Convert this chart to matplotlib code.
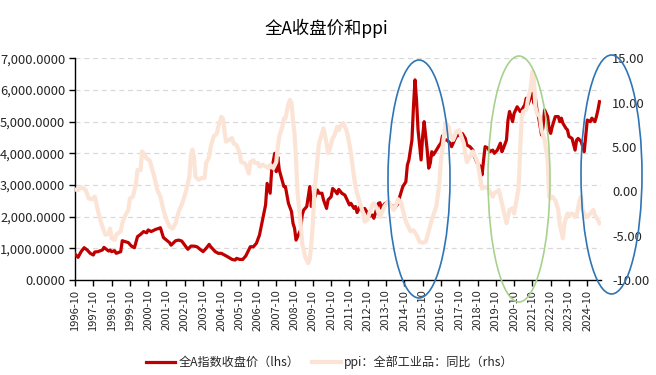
import matplotlib
matplotlib.use('Agg')
import matplotlib.pyplot as plt
from matplotlib.patches import Ellipse
from matplotlib.ticker import FuncFormatter
from matplotlib.lines import Line2D

plt.rcParams['font.family'] = ['Noto Sans CJK SC', 'DejaVu Sans']

# ---------------- data ----------------
idx_dates = [
    "1996-10", "1996-12", "1997-02", "1997-04", "1997-06", "1997-08", "1997-10", "1997-11",
    "1998-01", "1998-04", "1998-05", "1998-08", "1998-09", "1998-10", "1998-12", "1999-01",
    "1999-04", "1999-05", "1999-07", "1999-09", "1999-11", "2000-01", "2000-03", "2000-05",
    "2000-07", "2000-09", "2000-10", "2000-12", "2001-03", "2001-05", "2001-06", "2001-08",
    "2001-10", "2001-12", "2002-01", "2002-04", "2002-06", "2002-08", "2002-10", "2002-12",
    "2003-02", "2003-04", "2003-06", "2003-08", "2003-10", "2003-12", "2004-02", "2004-03",
    "2004-06", "2004-08", "2004-10", "2004-12", "2005-02", "2005-05", "2005-07", "2005-08",
    "2005-10", "2005-12", "2006-02", "2006-05", "2006-07", "2006-09", "2006-11", "2007-01",
    "2007-03", "2007-04", "2007-06", "2007-07", "2007-09", "2007-10", "2007-11", "2007-12",
    "2008-03", "2008-04", "2008-06", "2008-08", "2008-09", "2008-10", "2008-11", "2008-12",
    "2009-02", "2009-03", "2009-04", "2009-06", "2009-07", "2009-08", "2009-09", "2009-10",
    "2009-11", "2010-01", "2010-02", "2010-04", "2010-05", "2010-07", "2010-08", "2010-10",
    "2010-11", "2011-01", "2011-02", "2011-03", "2011-05", "2011-07", "2011-08", "2011-10",
    "2011-11", "2012-01", "2012-02", "2012-03", "2012-05", "2012-06", "2012-08", "2012-10",
    "2012-11", "2013-01", "2013-02", "2013-05", "2013-06", "2013-07", "2013-09", "2013-11",
    "2013-12", "2014-01", "2014-03", "2014-04", "2014-06", "2014-07", "2014-09", "2014-11",
    "2014-12", "2015-01", "2015-03", "2015-04", "2015-05", "2015-06", "2015-07", "2015-09",
    "2015-10", "2015-11", "2016-01", "2016-02", "2016-03", "2016-04", "2016-05", "2016-07",
    "2016-09", "2016-10", "2016-11", "2016-12", "2017-02", "2017-04", "2017-05", "2017-07",
    "2017-08", "2017-10", "2017-12", "2018-02", "2018-03", "2018-05", "2018-07", "2018-08",
    "2018-10", "2018-12", "2019-01", "2019-02", "2019-03", "2019-05", "2019-06", "2019-08",
    "2019-09", "2019-11", "2019-12", "2020-01", "2020-02", "2020-03", "2020-05", "2020-06",
    "2020-07", "2020-09", "2020-10", "2020-12", "2021-02", "2021-03", "2021-05", "2021-06",
    "2021-07", "2021-09", "2021-10", "2021-11", "2021-12", "2022-01", "2022-02", "2022-04",
    "2022-05", "2022-06", "2022-08", "2022-09", "2022-10", "2022-11", "2023-01", "2023-03",
    "2023-04", "2023-05", "2023-06", "2023-08", "2023-09", "2023-10", "2023-12", "2024-02",
    "2024-03", "2024-04", "2024-06", "2024-08", "2024-10", "2024-12", "2025-01", "2025-03",
    "2025-04", "2025-05", "2025-06",
]
idx_values = [
    820, 716, 895, 1020, 947, 842, 790, 884,
    895, 947, 1030, 915, 947, 895, 926, 842,
    895, 1240, 1210, 1180, 1070, 1020, 1370, 1440,
    1530, 1490, 1580, 1530, 1600, 1630, 1650, 1340,
    1260, 1180, 1100, 1240, 1260, 1230, 1100, 970,
    1070, 1070, 1050, 970, 895, 1000, 1125, 1050,
    895, 842, 842, 790, 737, 650, 630, 684,
    650, 650, 758, 1050, 1050, 1160, 1420, 1890,
    2370, 3050, 2740, 3470, 4000, 3420, 3890, 3470,
    2950, 2950, 2420, 2160, 1790, 1630, 1260, 1370,
    1580, 2050, 2210, 2320, 2630, 2950, 2320, 2630,
    2580, 2840, 2740, 2740, 2530, 2260, 2530, 2630,
    2890, 2790, 2720, 2860, 2740, 2680, 2580, 2370,
    2420, 2260, 2320, 2130, 2320, 2210, 2260, 2100,
    2000, 2050, 1950, 2420, 2440, 2260, 2400, 2470,
    2440, 2370, 2320, 2300, 2420, 2630, 2950, 3100,
    3630, 3790, 4420, 5470, 6320, 5680, 4740, 3790,
    4530, 5000, 4100, 3530, 3680, 4050, 3950, 4100,
    4260, 4320, 4550, 4420, 4420, 4320, 4210, 4420,
    4530, 4580, 4630, 4470, 4260, 4210, 4100, 3890,
    3680, 3580, 3320, 3790, 4210, 4160, 4050, 4100,
    4000, 4100, 4210, 4320, 4050, 4160, 4420, 5050,
    5320, 5000, 5260, 5470, 5320, 5370, 5530, 5740,
    5530, 5790, 5890, 5580, 5740, 5370, 5160, 4580,
    4840, 5370, 5160, 4740, 4630, 4840, 5160, 5160,
    5000, 5110, 4950, 4790, 4740, 4530, 4470, 4100,
    4420, 4470, 4370, 4050, 5050, 5000, 5110, 5000,
    5160, 5370, 5630,
]

ppi_dates = [
    "1996-10", "1996-12", "1997-02", "1997-05", "1997-07", "1997-09", "1997-11", "1997-12",
    "1998-02", "1998-04", "1998-06", "1998-08", "1998-09", "1998-10", "1998-12", "1999-01",
    "1999-04", "1999-05", "1999-07", "1999-09", "1999-10", "1999-12", "2000-02", "2000-03",
    "2000-05", "2000-06", "2000-07", "2000-09", "2000-11", "2001-02", "2001-04", "2001-06",
    "2001-08", "2001-10", "2001-12", "2002-02", "2002-04", "2002-06", "2002-08", "2002-09",
    "2002-11", "2003-01", "2003-02", "2003-03", "2003-04", "2003-05", "2003-07", "2003-09",
    "2003-11", "2003-12", "2004-01", "2004-02", "2004-03", "2004-05", "2004-07", "2004-08",
    "2004-10", "2004-11", "2004-12", "2005-01", "2005-03", "2005-05", "2005-06", "2005-08",
    "2005-10", "2005-11", "2006-01", "2006-02", "2006-04", "2006-05", "2006-07", "2006-08",
    "2006-10", "2006-11", "2007-01", "2007-03", "2007-05", "2007-06", "2007-08", "2007-10",
    "2007-11", "2007-12", "2008-02", "2008-03", "2008-04", "2008-06", "2008-07", "2008-08",
    "2008-09", "2008-10", "2008-11", "2008-12", "2009-02", "2009-03", "2009-05", "2009-07",
    "2009-08", "2009-09", "2009-10", "2009-11", "2010-01", "2010-02", "2010-04", "2010-05",
    "2010-07", "2010-08", "2010-09", "2010-11", "2010-12", "2011-02", "2011-03", "2011-04",
    "2011-06", "2011-08", "2011-09", "2011-11", "2012-01", "2012-02", "2012-03", "2012-05",
    "2012-07", "2012-08", "2012-10", "2012-11", "2013-01", "2013-02", "2013-04", "2013-06",
    "2013-07", "2013-09", "2013-11", "2014-01", "2014-03", "2014-05", "2014-06", "2014-08",
    "2014-09", "2014-11", "2015-02", "2015-04", "2015-06", "2015-08", "2015-10", "2015-12",
    "2016-02", "2016-04", "2016-07", "2016-09", "2016-10", "2016-12", "2017-01", "2017-03",
    "2017-04", "2017-06", "2017-07", "2017-08", "2017-10", "2017-11", "2018-01", "2018-02",
    "2018-03", "2018-05", "2018-07", "2018-08", "2018-10", "2018-12", "2019-01", "2019-03",
    "2019-05", "2019-06", "2019-08", "2019-09", "2019-11", "2019-12", "2020-01", "2020-02",
    "2020-04", "2020-05", "2020-07", "2020-09", "2020-10", "2020-12", "2021-01", "2021-02",
    "2021-03", "2021-04", "2021-06", "2021-07", "2021-09", "2021-10", "2021-11", "2021-12",
    "2022-01", "2022-03", "2022-04", "2022-06", "2022-08", "2022-09", "2022-10", "2022-11",
    "2023-01", "2023-03", "2023-04", "2023-06", "2023-07", "2023-09", "2023-10", "2023-12",
    "2024-02", "2024-03", "2024-05", "2024-06", "2024-07", "2024-09", "2024-10", "2024-12",
    "2025-02", "2025-03", "2025-05", "2025-06",
]
ppi_values = [
    0.2, 0.15, 0.5, 0.15, -0.8, -0.9, -0.6, -1.35,
    -2.9, -4.0, -4.9, -4.8, -4.2, -5.3, -5.5, -4.9,
    -4.5, -3.6, -2.7, -2.1, -0.8, -0.6, 0.9, 2.4,
    2.4, 4.5, 4.3, 3.7, 3.5, 1.65, 0.15, -0.6,
    -2.1, -3.2, -4.0, -4.2, -3.6, -2.3, -1.5, -1.0,
    0.15, 1.65, 3.9, 4.7, 3.9, 1.65, 1.3, 1.5,
    1.5, 3.2, 3.5, 3.9, 5.0, 6.2, 6.5, 7.3,
    8.4, 8.2, 6.9, 5.6, 5.8, 6.0, 5.4, 5.2,
    4.3, 3.3, 3.2, 3.0, 2.0, 3.3, 3.5, 3.2,
    3.2, 2.8, 3.0, 2.8, 2.6, 3.0, 2.6, 3.3,
    5.0, 6.2, 7.3, 8.2, 8.2, 9.9, 10.3, 10.0,
    8.0, 6.5, 3.5, -0.2, -3.6, -5.9, -7.4, -8.1,
    -7.6, -5.9, -3.6, -0.2, 3.5, 5.4, 6.5, 7.1,
    5.4, 4.3, 4.7, 6.0, 6.2, 7.3, 6.9, 7.3,
    7.7, 6.9, 6.2, 4.3, 1.65, 0.5, -0.2, -1.35,
    -2.5, -3.4, -3.2, -2.5, -1.5, -1.35, -1.9, -2.9,
    -2.5, -1.7, -1.2, -1.5, -2.1, -1.35, -0.9, -1.35,
    -2.1, -3.4, -4.5, -4.4, -4.9, -5.7, -5.8, -5.7,
    -4.5, -3.2, -1.7, 0.9, 3.5, 6.2, 7.7, 7.3,
    6.5, 5.8, 6.2, 6.7, 6.9, 6.4, 5.4, 4.3,
    3.3, 3.9, 4.5, 4.1, 3.3, 1.3, 0.3, 0.5,
    0.3, 0.0, -0.6, -0.2, 0.0, 0.15, -0.6, -1.35,
    -2.9, -3.6, -2.1, -1.9, -2.5, -0.6, 0.5, 4.7,
    8.4, 9.0, 9.2, 10.3, 11.8, 13.5, 12.6, 9.5,
    8.8, 8.4, 6.9, 5.8, 3.5, -0.6, -0.8, -0.6,
    -1.0, -2.1, -3.8, -5.3, -3.6, -2.5, -2.7, -2.5,
    -2.9, -2.7, -1.0, -0.6, -2.1, -2.9, -2.9, -2.5,
    -2.1, -2.7, -3.2, -3.6,
]

tick_labels = [f"{y}-10" for y in range(1996, 2025)]
left_ticks = [0, 1000, 2000, 3000, 4000, 5000, 6000, 7000]
right_ticks = [-10, -5, 0, 5, 10, 15]

title = "全A收盘价和ppi"
idx_name = "全A指数收盘价（lhs）"
ppi_name = "ppi：全部工业品：同比（rhs）"


def month_index(s):
    y, m = s.split("-")
    return (int(y) - 1996) * 12 + int(m) - 10


idx_x = [month_index(d) for d in idx_dates]
ppi_x = [month_index(d) for d in ppi_dates]
tick_x = [month_index(t) for t in tick_labels]

# ---------------- figure ----------------
W, H = 656, 375
fig = plt.figure(figsize=(W / 100, H / 100), dpi=100)
ax = fig.add_axes([75 / W, 1 - 280 / H, (601 - 75) / W, (280 - 58.3) / H])
ax2 = ax.twinx()

red = "#c00000"
peach = "#fbe4d5"
txt = "#262626"

ax.plot(idx_x, idx_values, color=red, lw=2.3, solid_joinstyle="round", zorder=3)
ax2.plot(ppi_x, ppi_values, color=peach, lw=3.0, solid_joinstyle="round")

ax.set_xlim(0, 345)
ax.set_ylim(0, 7000)
ax2.set_ylim(-10, 15)

ax.set_yticks(left_ticks)
ax.yaxis.set_major_formatter(FuncFormatter(lambda v, p: f"{v:,.4f}"))
ax2.set_yticks(right_ticks)
ax2.yaxis.set_major_formatter(FuncFormatter(lambda v, p: f"{v:.2f}"))

ax.set_xticks(tick_x)
ax.set_xticklabels(tick_labels, rotation=90, fontsize=8, color=txt)

ax.grid(axis="y", linestyle=(0, (4, 3)), color="#d9d9d9", lw=0.9)
ax.set_axisbelow(True)

for s in ["top", "right"]:
    ax.spines[s].set_visible(False)
for s in ["top", "right", "left", "bottom"]:
    ax2.spines[s].set_visible(False)
ax.spines["left"].set_color("black")
ax.spines["bottom"].set_color("black")
ax.spines["left"].set_linewidth(1.0)
ax.spines["bottom"].set_linewidth(1.0)

ax.tick_params(axis="y", direction="out", length=4, width=1, labelsize=9.3, labelcolor=txt, pad=3)
ax.tick_params(axis="x", direction="out", length=4, width=1, pad=3)
ax2.tick_params(axis="y", length=0, labelsize=9.3, labelcolor=txt, pad=8)

fig.text(326 / W, 1 - 28 / H, title, ha="center", va="center", fontsize=12.5, color="black")

handles = [Line2D([], [], color=red, lw=2.3), Line2D([], [], color=peach, lw=3.0)]
fig.legend(handles, [idx_name, ppi_name], loc="center", bbox_to_anchor=(330 / W, 1 - 362 / H),
           ncol=2, frameon=False, fontsize=8.7, handlelength=2.4, handletextpad=0.3,
           columnspacing=1.0, labelcolor=txt)

# annotation ellipses
for cx, cy, w, h, col in [(419, 179, 62, 238, "#2e75b6"),
                          (519, 179, 62, 246, "#a9d18e"),
                          (611.5, 174.5, 61, 239, "#2e75b6")]:
    e = Ellipse((cx / W, 1 - cy / H), w / W, h / H, transform=fig.transFigure,
                fill=False, edgecolor=col, lw=1.2, zorder=10)
    fig.add_artist(e)

fig.savefig("out.png", dpi=100)
